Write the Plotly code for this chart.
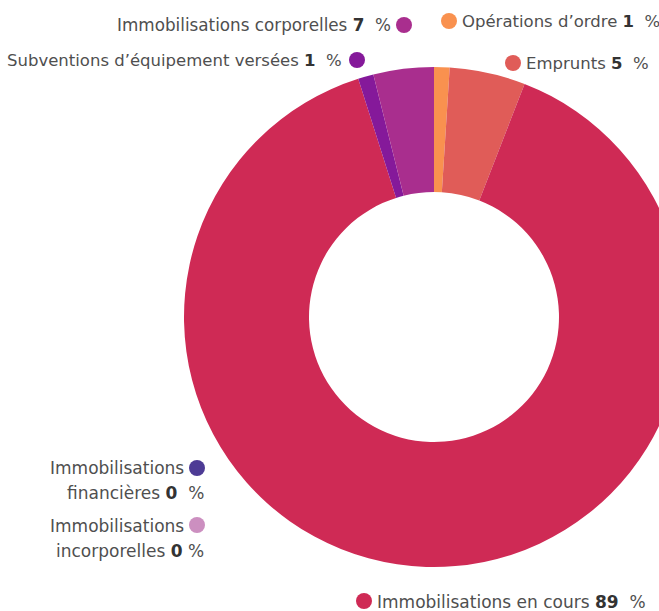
import plotly.graph_objects as go

labels = ["Opérations d’ordre", "Emprunts", "Immobilisations en cours",
          "Immobilisations financières", "Immobilisations incorporelles",
          "Subventions d’équipement versées", "Immobilisations corporelles"]
values = [1.0, 4.9, 89.2, 0.0, 0.0, 1.0, 3.9]
pct_text = ["1", "5", "89", "0", "0", "1", "7"]
colors = ["#f9914f", "#e05c58", "#cf2a55", "#4d3b95", "#cc8fc0", "#85199a", "#a92e8e"]

W, H = 700, 611
FONT = "DejaVu Sans"
TXT = "#4f4f4f"
NUM = "#333333"
FS = 16.5

fig = go.Figure(go.Pie(
    labels=labels, values=values, marker=dict(colors=colors, line=dict(width=0)),
    hole=0.5, sort=False, direction="clockwise", rotation=0,
    textinfo="none", hoverinfo="label+percent", showlegend=False,
    domain=dict(x=[184 / W, 684 / W], y=[1 - 567 / H, 1 - 67 / H]),
))

def px(x):
    return x / W

def py(y):
    return 1 - y / H

annotations = []
shapes = []

def label(text, x, y, anchor, fs=FS):
    annotations.append(dict(text=text, x=px(x), y=py(y), xref="paper", yref="paper",
                            xanchor=anchor, yanchor="middle", showarrow=False,
                            font=dict(family=FONT, size=fs, color=TXT)))

def dot(i, x, y, r=8):
    shapes.append(dict(type="circle", xref="paper", yref="paper",
                       x0=px(x - r), x1=px(x + r), y0=py(y + r), y1=py(y - r),
                       fillcolor=colors[i], line=dict(width=0)))

def num(i, sep="\u00a0\u00a0"):
    return f"<b style='color:{NUM}'>{pct_text[i]}</b>{sep}%"

# Immobilisations corporelles (6)
label(f"{labels[6]} {num(6)}", 393, 25, "right", 16.8)
dot(6, 404, 25)
# Subventions (5)
label(f"{labels[5]} {num(5)}", 344, 61, "right")
dot(5, 357, 60)
# Opérations d'ordre (0)
label(f"{labels[0]} {num(0)}", 460, 21, "left")
dot(0, 449, 21)
# Emprunts (1)
label(f"{labels[1]} {num(1)}", 524, 63, "left")
dot(1, 513, 63)
# Immobilisations financières (3)
label("Immobilisations", 186, 468, "right", 17)
label(f"financières {num(3)}", 206, 493, "right", 17)
dot(3, 197, 468)
# Immobilisations incorporelles (4)
label("Immobilisations", 186, 526, "right", 17)
label(f"incorporelles {num(4, chr(160))}", 206, 551, "right", 17)
dot(4, 197, 525)
# Immobilisations en cours (2)
label(f"{labels[2]} {num(2)}", 375, 602, "left", 17)
dot(2, 364, 601)

fig.update_layout(width=W, height=H, margin=dict(l=0, r=0, t=0, b=0),
                  paper_bgcolor="white", plot_bgcolor="white",
                  annotations=annotations, shapes=shapes,
                  font=dict(family=FONT, color=TXT))

fig.write_html("out.html", config={"displayModeBar": False}, post_script=(
    "document.body.style.margin='0';"
    "document.body.style.overflow='hidden';"
    "document.documentElement.style.overflow='hidden';"))
